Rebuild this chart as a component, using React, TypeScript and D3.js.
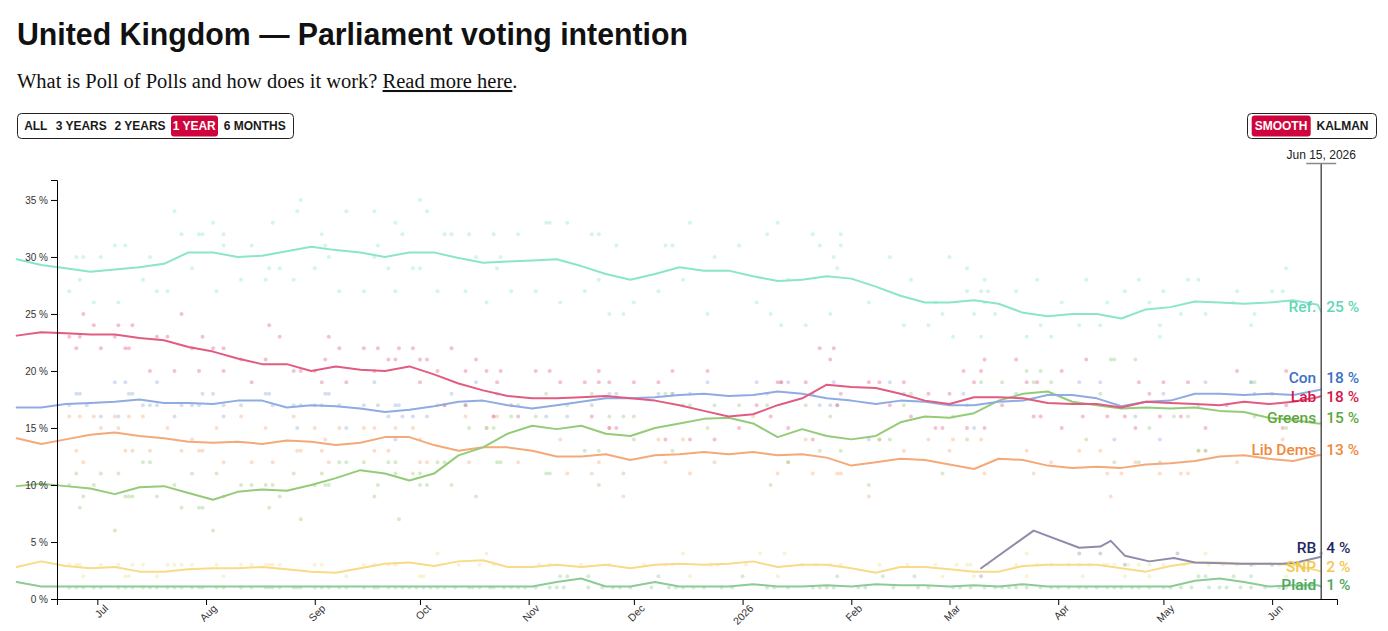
import React, { useEffect, useRef } from "react";
import * as d3 from "d3";

// ---------- DATA ----------
const WEEK_DATES = [
  "2025-06-08","2025-06-15","2025-06-22","2025-06-29","2025-07-06","2025-07-13","2025-07-20","2025-07-27",
  "2025-08-03","2025-08-10","2025-08-17","2025-08-24","2025-08-31","2025-09-07","2025-09-14","2025-09-21",
  "2025-09-28","2025-10-05","2025-10-12","2025-10-19","2025-10-26","2025-11-02","2025-11-09","2025-11-16",
  "2025-11-23","2025-11-30","2025-12-07","2025-12-14","2025-12-21","2025-12-28","2026-01-04","2026-01-11",
  "2026-01-18","2026-01-25","2026-02-01","2026-02-08","2026-02-15","2026-02-22","2026-03-01","2026-03-08",
  "2026-03-15","2026-03-22","2026-03-29","2026-04-05","2026-04-12","2026-04-19","2026-04-26","2026-05-03",
  "2026-05-10","2026-05-17","2026-05-24","2026-05-31","2026-06-07","2026-06-14","2026-06-15"
];
const MARKER_DATE = "2026-06-15";
const MARKER_LABEL = "Jun 15, 2026";

const REF_VALUES = [29.8,29.3,29.0,28.7,28.9,29.1,29.4,30.4,30.4,30.0,30.1,30.5,30.9,30.6,30.4,30.0,30.4,30.4,29.9,29.5,29.6,29.7,29.8,29.2,28.5,28.0,28.5,29.1,28.8,28.8,28.3,27.9,28.0,28.3,28.1,27.4,26.6,26.0,26.0,26.2,25.9,25.1,24.8,25.0,25.0,24.6,25.4,25.6,26.1,26.0,25.9,26.0,26.2,25.8,25.2];
const LAB_VALUES = [23.1,23.4,23.3,23.2,23.2,22.9,22.7,22.1,21.7,21.1,20.6,20.6,20.0,20.4,20.1,20.0,20.4,19.7,18.9,18.3,17.8,17.6,17.6,17.7,17.8,17.6,17.4,17.0,16.5,16.0,16.2,17.0,17.6,18.8,18.6,18.5,18.0,17.4,17.1,17.7,17.7,17.6,17.2,17.1,17.1,16.8,17.3,17.2,17.1,17.0,17.3,17.1,17.3,17.7,17.8];
const CON_VALUES = [16.8,16.8,17.1,17.2,17.3,17.5,17.2,17.2,17.1,17.4,17.4,16.8,17.0,16.9,16.7,16.4,16.6,16.9,17.3,17.4,17.0,16.7,17.0,17.3,17.6,17.6,17.7,17.9,18.0,17.8,17.9,18.2,18.0,17.6,17.4,17.1,17.4,17.3,17.0,17.0,17.3,17.4,17.9,17.9,17.6,16.9,17.3,17.4,18.0,18.0,17.9,18.0,17.9,18.3,18.4];
const GREENS_VALUES = [9.9,10.1,9.9,9.7,9.2,9.8,9.9,9.3,8.7,9.4,9.6,9.5,10.0,10.6,11.3,11.0,10.4,11.0,12.6,13.3,14.5,15.2,14.9,15.2,14.5,14.3,15.0,15.4,15.8,15.9,15.4,14.2,14.9,14.3,14.0,14.3,15.5,16.0,15.9,16.3,17.4,18.0,18.2,17.3,17.0,16.7,16.8,16.7,16.8,16.5,16.4,15.9,15.7,15.4,15.4];
const LD_VALUES = [14.1,13.6,14.0,14.4,14.6,14.3,14.1,13.8,13.7,13.8,13.6,13.9,13.8,13.5,13.7,14.2,14.2,13.5,13.0,13.3,13.3,13.0,12.5,12.5,12.7,12.2,12.6,12.7,12.9,12.7,12.9,12.6,12.7,12.4,11.7,12.0,12.3,12.2,11.8,11.4,12.3,12.2,11.7,11.5,11.6,11.5,11.8,11.9,12.1,12.5,12.6,12.3,12.1,12.6,12.6];
const SNP_VALUES = [2.8,3.3,2.9,2.7,2.8,2.4,2.4,2.6,2.7,2.7,2.8,2.6,2.4,2.3,2.7,3.1,3.2,2.9,3.3,3.4,2.8,2.8,3.0,2.8,3.0,2.7,3.0,3.1,3.0,3.1,3.3,2.8,3.0,3.0,2.7,2.3,2.8,2.8,2.6,2.4,2.4,2.9,3.0,3.0,3.0,2.7,2.4,2.9,3.2,3.2,3.1,3.1,3.0,2.5,2.4];
const PLAID_VALUES = [1.5,1.1,1.1,1.1,1.1,1.1,1.1,1.1,1.1,1.1,1.1,1.1,1.1,1.1,1.1,1.1,1.1,1.1,1.1,1.1,1.1,1.1,1.5,1.8,1.1,1.1,1.5,1.1,1.1,1.1,1.3,1.1,1.1,1.2,1.1,1.3,1.2,1.2,1.1,1.2,1.1,1.3,1.1,1.1,1.1,1.1,1.1,1.1,1.6,1.8,1.5,1.1,1.2,1.2,1.1];

const RB_DATES = ["2026-03-10","2026-03-25","2026-04-07","2026-04-13","2026-04-16","2026-04-20","2026-04-27","2026-05-04","2026-05-10","2026-05-23","2026-06-04","2026-06-08","2026-06-15"];
const RB_VALUES = [2.7,6.0,4.5,4.6,5.1,3.8,3.3,3.6,3.2,3.1,3.1,3.2,3.7];

// individual polls: [days after POLL_BASE_DATE, percent]
const POLL_BASE_DATE = "2025-07-01";
const REF_POLLS: [number, number][] = [[-8,27],[-6,30],[-4,30],[-5,28],[-1,26],[1,30],[5,31],[6,26],[8,31],[13,28],[15,30],[17,27],[20,27],[22,34],[24,32],[27,29],[29,32],[30,32],[33,33],[34,27],[36,32],[36,31],[41,28],[44,31],[48,28],[49,29],[50,33],[52,29],[56,28],[57,34],[58,35],[62,29],[64,32],[65,31],[66,30],[69,27],[71,34],[76,27],[79,34],[79,30],[80,31],[83,29],[85,33],[85,27],[87,32],[90,29],[92,35],[92,29],[94,34],[97,27],[99,32],[101,32],[105,27],[106,32],[108,30],[111,26],[113,32],[114,29],[115,30],[118,27],[120,32],[125,27],[128,33],[129,33],[132,26],[134,33],[139,27],[141,32],[143,32],[143,28],[146,25],[148,31],[150,25],[153,26],[160,27],[162,31],[164,31],[167,28],[169,33],[174,25],[176,30],[183,31],[188,26],[191,32],[192,25],[194,33],[195,24],[197,28],[202,24],[204,32],[206,31],[209,25],[210,30],[211,29],[212,32],[212,31],[220,26],[226,30],[230,24],[232,28],[237,24],[239,26],[241,25],[243,30],[244,23],[248,27],[248,29],[250,25],[252,23],[252,27],[253,28],[253,26],[254,27],[256,25],[262,27],[265,23],[268,28],[269,24],[272,23],[275,26],[280,24],[282,28],[286,24],[288,26],[293,27],[297,28],[300,26],[303,24],[303,23],[304,27],[309,25],[311,28],[314,28],[316,25],[324,26],[325,27],[329,24],[330,25],[335,27],[338,27],[339,29]];
const LAB_POLLS: [number, number][] = [[-8,23],[-6,22],[-4,25],[-5,23],[-1,24],[1,22],[5,23],[6,24],[8,22],[9,22],[10,24],[15,20],[17,23],[20,23],[22,20],[24,25],[27,22],[29,20],[30,23],[33,22],[36,22],[36,20],[41,21],[44,19],[48,21],[49,24],[52,23],[56,20],[58,20],[62,20],[64,19],[65,21],[66,23],[69,22],[71,19],[76,22],[79,20],[80,22],[83,21],[85,21],[86,22],[90,22],[92,21],[94,21],[92,19],[97,20],[101,22],[105,20],[108,21],[111,20],[114,19],[115,20],[125,20],[129,20],[132,19],[139,19],[143,20],[143,19],[146,19],[153,19],[160,19],[164,20],[174,20],[194,19],[195,19],[202,19],[206,22],[210,22],[209,21],[220,19],[223,19],[113,16],[120,16],[141,16],[146,15],[148,15],[162,14],[169,14],[176,14],[183,15],[188,17],[192,16],[197,15],[204,14],[211,17],[226,17],[212,18],[105,17],[99,17],[118,17],[230,19],[237,18],[243,18],[247,20],[250,19],[252,20],[253,21],[262,21],[265,19],[268,19],[275,20],[282,21],[297,19],[300,18],[304,19],[311,19],[325,20],[335,18],[339,20],[232,16],[239,15],[241,15],[248,15],[253,15],[258,17],[267,16],[269,16],[275,15],[281,16],[288,16],[293,16],[296,15],[303,16],[309,16],[316,15],[322,17],[338,15],[339,17]];
const CON_POLLS: [number, number][] = [[-8,17],[-6,18],[-5,18],[-3,17],[1,16],[5,19],[6,16],[8,19],[9,18],[10,18],[13,17],[15,17],[17,19],[17,17],[22,16],[24,17],[27,17],[29,17],[30,18],[33,18],[36,16],[36,17],[41,17],[48,18],[49,18],[50,17],[56,17],[57,15],[58,17],[62,17],[64,17],[65,18],[66,18],[69,17],[71,15],[76,17],[79,19],[80,17],[83,16],[85,17],[85,14],[87,16],[86,17],[90,16],[94,16],[101,18],[108,19],[105,17],[114,18],[128,16],[134,16],[141,17],[146,18],[148,18],[160,18],[164,18],[169,18],[174,19],[188,19],[191,18],[195,19],[197,19],[204,18],[210,19],[211,17],[209,17],[220,14],[226,19],[206,17],[230,18],[247,18],[248,17],[250,15],[262,18],[280,19],[286,19],[290,14],[296,16],[303,14],[304,18],[314,17],[316,19],[329,19],[330,18]];
const GREENS_POLLS: [number, number][] = [[-8,10],[-6,11],[-4,9],[-5,8],[-1,10],[1,11],[5,6],[6,11],[8,9],[9,9],[10,9],[13,12],[15,12],[17,9],[22,10],[24,8],[27,11],[29,8],[30,8],[33,6],[34,11],[36,9],[41,10],[44,10],[48,10],[49,8],[50,10],[52,9],[56,11],[58,7],[62,10],[64,11],[65,10],[66,10],[69,12],[71,12],[76,12],[79,9],[80,10],[83,12],[85,12],[85,11],[86,7],[90,11],[92,11],[92,10],[94,10],[97,12],[99,12],[101,10],[106,15],[108,9],[111,15],[113,15],[114,12],[115,12],[118,16],[120,17],[125,16],[128,18],[128,11],[129,11],[134,17],[139,13],[141,18],[143,13],[143,10],[146,16],[150,16],[150,11],[153,14],[153,16],[162,18],[164,13],[164,18],[167,17],[169,17],[174,15],[176,17],[183,17],[192,10],[191,17],[197,12],[202,17],[206,13],[209,16],[212,13],[220,10],[223,14],[226,14],[230,17],[232,18],[241,11],[244,16],[248,14],[252,19],[258,19],[265,20],[267,19],[269,20],[272,19],[282,14],[286,18],[289,21],[290,21],[290,12],[296,21],[297,12],[300,15],[303,12],[307,16],[311,16],[314,13],[316,13],[329,19],[330,19],[330,16],[339,15]];
const LD_POLLS: [number, number][] = [[-8,16],[-6,13],[-5,16],[-4,12],[-1,16],[1,15],[5,16],[6,15],[8,13],[9,16],[10,13],[13,16],[15,13],[20,15],[24,13],[27,14],[29,13],[30,13],[34,15],[36,12],[41,16],[44,12],[48,15],[50,12],[56,16],[57,13],[58,13],[62,15],[64,13],[65,14],[66,12],[69,15],[76,15],[79,13],[79,15],[83,13],[85,15],[90,15],[92,14],[92,12],[94,12],[97,17],[99,17],[105,16],[106,12],[111,15],[113,16],[114,16],[120,12],[132,14],[134,11],[141,11],[143,12],[146,15],[150,9],[160,14],[162,12],[167,14],[169,11],[176,12],[187,16],[194,11],[197,12],[202,14],[204,11],[211,11],[212,11],[220,9],[223,14],[230,13],[237,14],[243,13],[244,14],[252,14],[253,11],[265,13],[267,11],[272,12],[280,13],[286,13],[288,11],[289,9],[292,11],[296,12],[303,11],[309,11],[311,11],[314,13],[316,13],[325,12],[338,14]];
const SNP_POLLS: [number, number][] = [[-8,3],[-6,3],[-5,3],[1,3],[6,3],[10,3],[13,3],[20,3],[22,3],[24,3],[27,3],[34,3],[41,3],[44,3],[48,3],[49,3],[50,3],[52,3],[62,3],[64,3],[76,3],[79,3],[83,3],[85,3],[-4,2],[8,2],[9,2],[17,2],[36,2],[71,2],[103,3],[109,3],[113,3],[126,3],[129,3],[138,3],[146,3],[156,3],[162,3],[164,3],[175,3],[177,3],[185,3],[201,3],[205,3],[209,3],[212,3],[223,3],[231,3],[239,3],[245,3],[249,3],[97,4],[111,4],[167,4],[189,4],[196,4],[92,2],[93,2],[169,2],[194,2],[241,2],[248,3],[254,3],[262,3],[268,3],[272,3],[277,3],[280,3],[283,3],[287,3],[288,3],[290,3],[294,3],[297,3],[300,3],[304,3],[310,3],[317,3],[321,3],[325,3],[330,3],[337,3],[343,3],[265,4],[316,4],[250,2],[265,2],[281,2],[293,2],[300,2],[339,2]];
const PLAID_POLLS: [number, number][] = [[-8,1],[-6,1],[-4,1],[-1,1],[1,1],[6,1],[8,1],[10,1],[13,1],[15,1],[17,1],[20,1],[22,1],[24,1],[27,1],[29,1],[30,1],[34,1],[36,1],[41,1],[44,1],[48,1],[49,1],[50,1],[52,1],[56,1],[57,1],[58,1],[62,1],[64,1],[66,1],[69,1],[71,1],[76,1],[79,1],[80,1],[83,1],[85,1],[87,1],[89,1],[91,1],[93,1],[95,1],[97,1],[99,1],[102,1],[106,1],[107,1],[109,1],[112,1],[113,1],[116,1],[118,1],[120,1],[122,1],[125,1],[129,1],[131,1],[133,1],[140,1],[144,1],[147,1],[149,1],[152,1],[158,1],[163,1],[165,1],[167,1],[170,1],[173,1],[178,1],[181,1],[191,1],[193,1],[197,1],[204,1],[206,1],[208,1],[210,1],[217,1],[219,1],[227,1],[234,1],[237,1],[244,1],[246,1],[249,1],[253,1],[256,1],[258,1],[260,1],[262,1],[265,1],[269,1],[272,1],[274,1],[277,1],[280,1],[282,1],[285,1],[288,1],[290,1],[292,1],[295,1],[297,1],[300,1],[304,1],[306,1],[309,1],[312,1],[317,1],[320,1],[322,1],[326,1],[329,1],[333,1],[337,1],[339,1],[342,1],[344,1],[346,1],[132,2],[134,2],[140,2],[160,2],[184,2],[211,2],[224,2],[233,2],[314,2],[316,2],[324,2],[329,2]];
const RB_POLLS: [number, number][] = [[252,2],[280,4],[286,4],[293,3],[308,4],[329,3],[335,3],[349,4]];

const RANGE_BUTTONS = ["ALL", "3 YEARS", "2 YEARS", "1 YEAR", "6 MONTHS"];
const RANGE_ACTIVE = "1 YEAR";
const MODE_BUTTONS = ["SMOOTH", "KALMAN"];
const MODE_ACTIVE = "SMOOTH";
const Y_TICKS = [0, 5, 10, 15, 20, 25, 30, 35];

const TITLE = "United Kingdom — Parliament voting intention";
const SUB_TEXT = "What is Poll of Polls and how does it work? ";
const SUB_LINK = "Read more here";

// ---------- STYLE ----------
const SANS = "'Liberation Sans', Arial, Helvetica, sans-serif";
const LABEL_FONT = "Roboto, 'Liberation Sans', Arial, sans-serif";
const SERIF = "'Liberation Serif', 'Times New Roman', serif";
const ACCENT = "#d0043c";

type Party = { name: string; dates: string[]; values: number[]; polls: [number, number][]; line: string; label: string };
const PARTIES: Party[] = [
  { name: "Plaid", dates: WEEK_DATES, values: PLAID_VALUES, polls: PLAID_POLLS, line: "#8ccb96", label: "#4ca85c" },
  { name: "SNP", dates: WEEK_DATES, values: SNP_VALUES, polls: SNP_POLLS, line: "#f8db88", label: "#f2c84c" },
  { name: "Lib Dems", dates: WEEK_DATES, values: LD_VALUES, polls: LD_POLLS, line: "#f5a978", label: "#ee8a3c" },
  { name: "Greens", dates: WEEK_DATES, values: GREENS_VALUES, polls: GREENS_POLLS, line: "#94cb78", label: "#5da83c" },
  { name: "Con", dates: WEEK_DATES, values: CON_VALUES, polls: CON_POLLS, line: "#8fabe3", label: "#3c6fc6" },
  { name: "Lab", dates: WEEK_DATES, values: LAB_VALUES, polls: LAB_POLLS, line: "#e15c80", label: "#d6174b" },
  { name: "Ref.", dates: WEEK_DATES, values: REF_VALUES, polls: REF_POLLS, line: "#8ae5cc", label: "#62d6b7" },
  { name: "RB", dates: RB_DATES, values: RB_VALUES, polls: RB_POLLS, line: "#8d8cad", label: "#1e2865" },
];

const parse = d3.timeParse("%Y-%m-%d");

export default function App() {
  const xAxisRef = useRef<SVGGElement>(null);
  const yAxisRef = useRef<SVGGElement>(null);

  const x = d3.scaleTime()
    .domain([new Date(2025, 5, 19, 12), new Date(2026, 5, 19, 12)])
    .range([57, 1337]);
  const y = d3.scaleLinear().domain([0, 36.75]).range([599, 180]);

  const base = parse(POLL_BASE_DATE) as Date;
  const markerX = x(parse(MARKER_DATE) as Date);

  const line = d3.line<[Date, number]>().x(d => x(d[0])).y(d => y(d[1])).curve(d3.curveLinear);

  useEffect(() => {
    const fmtMonth = d3.timeFormat("%b");
    const fmtYear = d3.timeFormat("%Y");
    const xa = d3.axisBottom(x)
      .ticks(d3.timeMonth.every(1))
      .tickFormat((d: any) => (d.getMonth() === 0 ? fmtYear(d) : fmtMonth(d)));
    const gx = d3.select(xAxisRef.current!);
    gx.call(xa as any);
    gx.selectAll("text")
      .attr("x", 0).attr("y", 0).attr("dy", 0)
      .attr("transform", "translate(11,10) rotate(-45)")
      .style("text-anchor", "end")
      .attr("fill", "#333").style("font-size", "10.5px").style("font-family", SANS);

    const ya = d3.axisLeft(y).tickValues(Y_TICKS).tickFormat((d: any) => `${d} %`);
    const gy = d3.select(yAxisRef.current!);
    gy.call(ya as any);
    gy.selectAll("text").attr("fill", "#333").style("font-size", "10px").style("font-family", SANS);
  }, []);

  // end labels with simple collision relaxation
  const items = PARTIES.map(p => {
    const last = p.values[p.values.length - 1];
    return { name: p.name, color: p.label, last, y: y(last) };
  }).sort((a, b) => a.y - b.y);
  const gap = 18.5;
  for (let it = 0; it < 200; it++) {
    for (let i = 1; i < items.length; i++) {
      const g = items[i].y - items[i - 1].y;
      if (g < gap) {
        const s = (gap - g) / 2;
        items[i - 1].y -= s;
        items[i].y += s;
      }
    }
  }

  const rangeCenters = [35.8, 81.2, 140, 194.2, 254.8];
  const modeCenters = [1281, 1342.5];

  return (
    <svg width={1388} height={631} style={{ position: "absolute", left: 0, top: 0, background: "#fff" }}>
      <text x={17} y={45} fontFamily={SANS} fontWeight={700} fontSize={31} fill="#111"
        textLength={671} lengthAdjust="spacingAndGlyphs">{TITLE}</text>
      <text x={17} y={88} fontFamily={SERIF} fontSize={20.5} fill="#111">
        {SUB_TEXT}
        <tspan textDecoration="underline" style={{ textDecoration: "underline" }}>{SUB_LINK}</tspan>
        .
      </text>

      {/* range buttons */}
      <rect x={17.5} y={113.5} width={276} height={25} rx={4} fill="#fff" stroke="#222" />
      {RANGE_BUTTONS.map((b, i) => {
        const active = b === RANGE_ACTIVE;
        return (
          <g key={b}>
            {active && <rect x={171} y={115.5} width={47} height={21} rx={3} fill={ACCENT} />}
            <text x={rangeCenters[i]} y={130.2} textAnchor="middle" fontFamily={SANS} fontWeight={700}
              fontSize={12} fill={active ? "#fff" : "#1a1a1a"}>{b}</text>
          </g>
        );
      })}
      <rect x={1247.5} y={113.5} width={129} height={25} rx={4} fill="#fff" stroke="#222" />
      {MODE_BUTTONS.map((b, i) => {
        const active = b === MODE_ACTIVE;
        return (
          <g key={b}>
            {active && <rect x={1251.7} y={115.5} width={59} height={21} rx={3} fill={ACCENT} />}
            <text x={modeCenters[i]} y={130.2} textAnchor="middle" fontFamily={SANS} fontWeight={700}
              fontSize={12} fill={active ? "#fff" : "#1a1a1a"}>{b}</text>
          </g>
        );
      })}

      {/* polls */}
      <g>
        {PARTIES.map(p => (
          <g key={p.name + "-polls"} fill={p.line} fillOpacity={0.38}>
            {p.polls.map((d, i) => (
              <circle key={i} cx={x(d3.timeDay.offset(base, d[0]))} cy={y(d[1])} r={2} />
            ))}
          </g>
        ))}
      </g>

      {/* lines */}
      <g fill="none" strokeWidth={2} strokeLinejoin="round" strokeLinecap="round">
        {PARTIES.map(p => (
          <path key={p.name + "-line"} stroke={p.line}
            d={line(p.dates.map((d, i) => [parse(d) as Date, p.values[i]] as [Date, number])) || ""} />
        ))}
      </g>

      <g ref={xAxisRef} transform="translate(0,599)" />
      <g ref={yAxisRef} transform="translate(57,0)" />

      {/* marker */}
      <line x1={markerX} x2={markerX} y1={163.5} y2={599} stroke="#555" strokeWidth={1.5} />
      <line x1={markerX - 15} x2={markerX + 15} y1={163.5} y2={163.5} stroke="#888" strokeWidth={1.5} />
      <text x={markerX} y={159} textAnchor="middle" fontFamily={SANS} fontSize={12} fill="#222">{MARKER_LABEL}</text>

      {/* end labels */}
      {items.map(it => (
        <g key={it.name + "-label"} fontFamily={LABEL_FONT} fontSize={15.5} fontWeight={500} fill={it.color}>
          <text x={markerX - 5} y={it.y} textAnchor="end">{it.name}</text>
          <text x={markerX + 5} y={it.y}>{`${Math.round(it.last)} %`}</text>
        </g>
      ))}
    </svg>
  );
}
